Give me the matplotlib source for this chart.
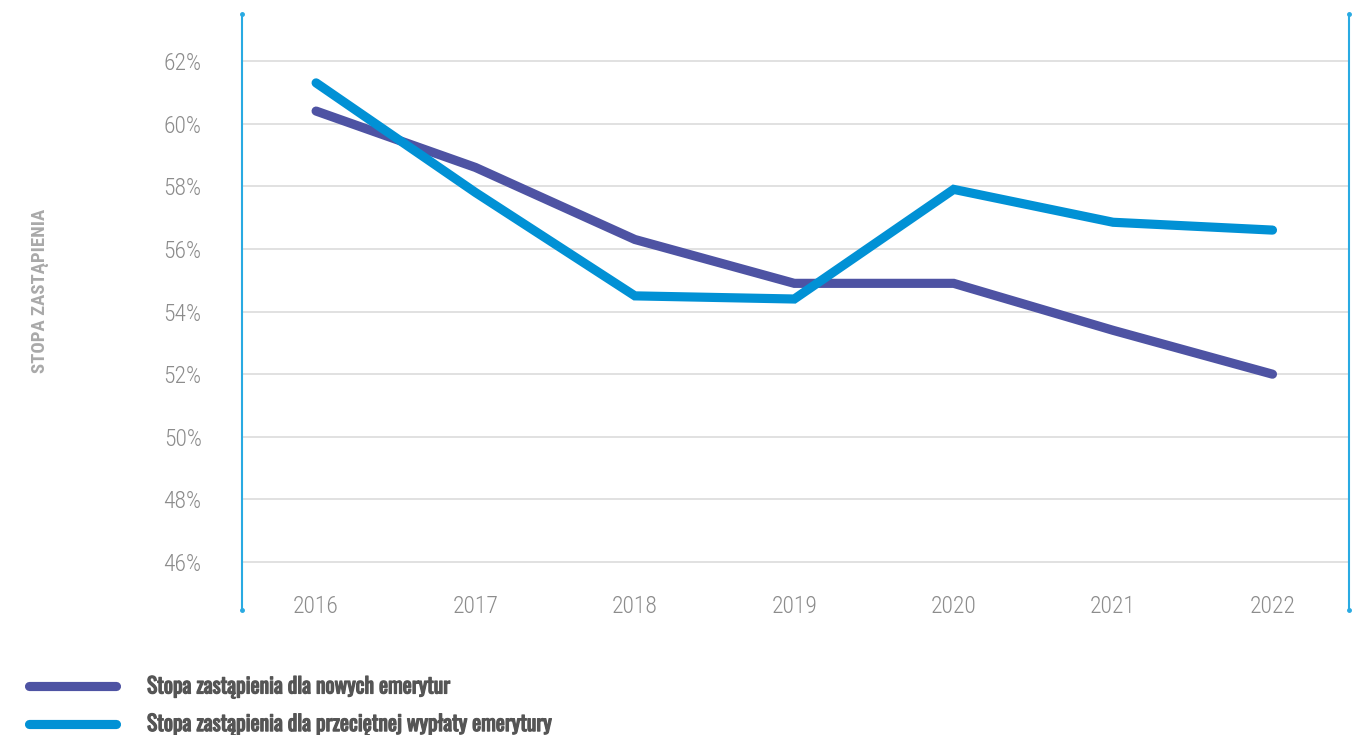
import matplotlib
matplotlib.use("Agg")
import matplotlib.pyplot as plt
from matplotlib.lines import Line2D
import matplotlib.transforms as mtransforms
import matplotlib.patheffects as pe

years = ["2016", "2017", "2018", "2019", "2020", "2021", "2022"]
new_pensions = [60.4, 58.6, 56.3, 54.9, 54.9, 53.4, 52.0]
avg_pensions = [61.3, 57.8, 54.5, 54.4, 57.9, 56.85, 56.6]
yticks = [46, 48, 50, 52, 54, 56, 58, 60, 62]
series_labels = ["Stopa zastąpienia dla nowych emerytur",
                 "Stopa zastąpienia dla przeciętnej wypłaty emerytury"]
ylabel = "STOPA ZASTĄPIENIA"

COND = ["Roboto Condensed", "DejaVu Sans"]
LEGF = ["Oswald", "Roboto Condensed", "DejaVu Sans"]
PURPLE = "#4e53a3"
BLUE = "#0191d5"
AXBLUE = "#29aae2"

fig = plt.figure(figsize=(13.64, 7.35), dpi=100)
ax = fig.add_axes([0.1774, 0.170, 0.8116, 0.811])

x = list(range(len(years)))
ax.plot(x, new_pensions, color=PURPLE, lw=6.6, solid_capstyle="round",
        solid_joinstyle="miter", zorder=3)
ax.plot(x, avg_pensions, color=BLUE, lw=6.6, solid_capstyle="round",
        solid_joinstyle="miter", zorder=4)

ax.set_xlim(-0.465, 6.48)
ax.set_ylim(44.47, 63.5)
ax.set_yticks(yticks)
ax.set_yticklabels([f"{v}%" for v in yticks], family=COND, fontsize=17,
                   color="#8c8c8c", stretch="condensed", weight="light")
ax.tick_params(axis="y", length=0, pad=29)
ax.set_xticks([])
ax.yaxis.grid(True, color="#dedede", lw=1.3)
ax.set_axisbelow(True)

for s in ["top", "bottom"]:
    ax.spines[s].set_visible(False)
for s in ["left", "right"]:
    ax.spines[s].set_color(AXBLUE)
    ax.spines[s].set_linewidth(1.5)

for xx in (0, 1):
    ax.plot([xx, xx], [0, 1], transform=ax.transAxes, ls="none", marker="o",
            ms=2.5, color=AXBLUE, clip_on=False, zorder=5)

trans = mtransforms.blended_transform_factory(ax.transData, ax.transAxes)
for i, yr in enumerate(years):
    ax.text(i, -0.005, yr, transform=trans, ha="center", va="baseline",
            family=COND, fontsize=17, color="#8c8c8c", stretch="condensed",
            weight="light")

fig.text(0.0293, 0.604, ylabel, rotation=90, ha="center", va="center",
         family=COND, fontsize=13.5, fontweight="bold", color="#a9a9a9",
         stretch="condensed")

handles = [Line2D([], [], color=PURPLE, lw=6.6, solid_capstyle="round"),
           Line2D([], [], color=BLUE, lw=6.6, solid_capstyle="round")]
leg = fig.legend(handles, series_labels, loc="upper left",
                 bbox_to_anchor=(0.0216, 0.081), frameon=False,
                 prop={"family": LEGF, "size": 15.5, "weight": "medium"},
                 handlelength=4.0, handletextpad=1.46, labelspacing=0.67,
                 borderaxespad=0, borderpad=0)
for t in leg.get_texts():
    t.set_color("#555555")
    t.set_path_effects([pe.withStroke(linewidth=0.9, foreground="#555555")])

fig.savefig("out.png", dpi=100)
